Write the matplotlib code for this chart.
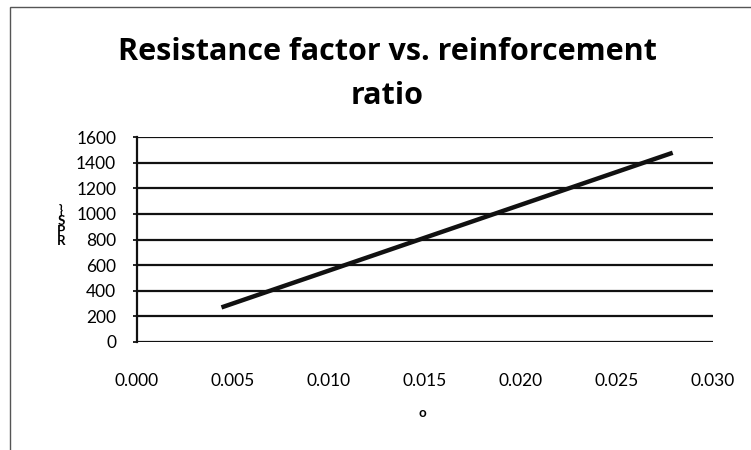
import matplotlib
matplotlib.use("Agg")
import matplotlib.pyplot as plt
from matplotlib.patches import Rectangle

plt.rcParams['font.family'] = ['Lato', 'DejaVu Sans']

ratio = [0.0044, 0.0279]
resistance = [270, 1477]
y_ticks = [0, 200, 400, 600, 800, 1000, 1200, 1400, 1600]
x_ticks = [0.000, 0.005, 0.010, 0.015, 0.020, 0.025, 0.030]
title = "Resistance factor vs. reinforcement\nratio"

fig = plt.figure(figsize=(7.51, 4.5), dpi=100)
fig.patches.append(Rectangle((10/751, -0.1), 1.0, 1.1 - 7/450, transform=fig.transFigure,
                             fill=False, edgecolor='#555555', linewidth=1.0))
ax = fig.add_axes([137/751, (450-342)/450, 576/751, 205/450])
ax.plot(ratio, resistance, color='#111111', linewidth=3.2, solid_capstyle='butt')
ax.set_xlim(0, 0.030)
ax.set_ylim(0, 1600)
ax.set_xticks(x_ticks)
ax.set_xticklabels([f"{v:.3f}" for v in x_ticks])
ax.set_yticks(y_ticks)
ax.yaxis.grid(True, color='#111111', linewidth=1.6)
ax.set_axisbelow(True)
for s in ['top', 'right', 'bottom']:
    ax.spines[s].set_visible(False)
ax.spines['left'].set_color('#111111')
ax.spines['left'].set_linewidth(1.6)
ax.tick_params(axis='x', length=0, pad=22, labelsize=12.5)
ax.tick_params(axis='y', length=3, width=1.2, pad=12, labelsize=12.5)

fig.text(387/751, 1 - 74/450, title, ha='center', va='center', fontsize=22,
         fontweight='bold', linespacing=1.65, family=['Open Sans', 'DejaVu Sans'])
fig.text(422/751, 1 - 413/450, "o", ha='center', va='center', fontsize=9.5, fontweight='bold')
fig.text(61/751, 1 - 225/450, "}\nS\nP\nR", ha='center', va='center', fontsize=9.5,
         fontweight='bold', linespacing=0.8)

fig.savefig("out.png", dpi=100)
